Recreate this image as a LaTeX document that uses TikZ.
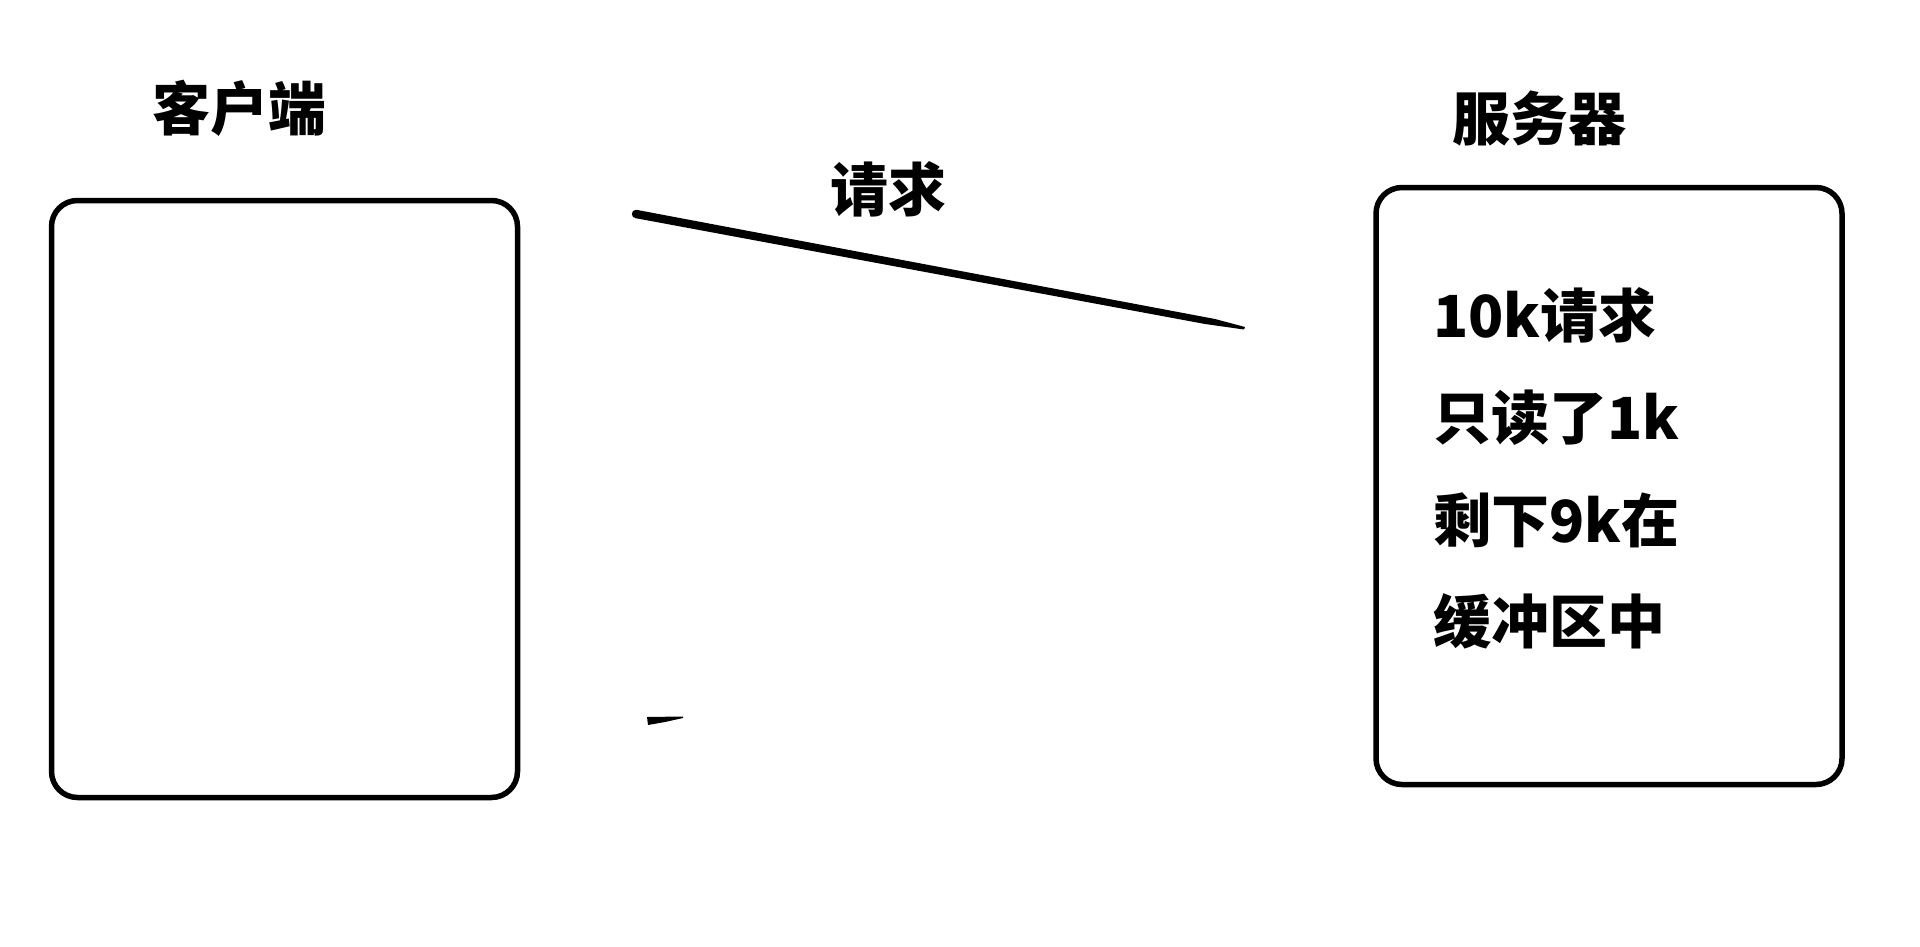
\documentclass[tikz,border=0pt]{standalone}
\usepackage{fontspec}
\setmainfont{Noto Sans CJK SC}
\begin{document}
\begin{tikzpicture}[x=1pt,y=-1pt,
  boxstyle/.style={draw=black,line width=5.5pt,rounded corners=26pt,minimum width=466pt,minimum height=597pt,inner sep=0pt},
  labelstyle/.style={font=\fontsize{58}{58}\selectfont\bfseries,inner sep=0pt},
  stroke/.style={fill=black}]
\useasboundingbox[fill=white] (0,0) rectangle (1920,947);
% boxes
\node[boxstyle] (client) at (284.5,499) {};
\node[boxstyle] (server) at (1609,486) {};
% titles
\node[labelstyle] (clientlbl) at (239,108) {客户端};
\node[labelstyle] (serverlbl) at (1539,118) {服务器};
\node[labelstyle] (reqlbl) at (888,189) {请求};
% server text
\node[labelstyle,anchor=west] (s1) at (1433,315) {10k请求};
\node[labelstyle,anchor=west] (s2) at (1433,418) {只读了1k};
\node[labelstyle,anchor=west] (s3) at (1433,520) {剩下9k在};
\node[labelstyle,anchor=west] (s4) at (1433,621) {缓冲区中};
% request stroke (tapered)
\coordinate (rs) at (636,214);
\coordinate (re) at (1245,327);
\fill[stroke] (rs) circle (4.2pt);
\fill[stroke] (636.8,209.9) -- (1215,319) -- (re) -- (1244,329.5) -- (1205,324) -- (635.2,218.1) -- cycle;
% small reply stroke
\coordinate (ms) at (647,720);
\coordinate (me) at (683,716.5);
\fill[stroke] (647,717) -- (me) -- (683,718) -- (665,722) -- (648,725) -- cycle;
\end{tikzpicture}
\end{document}
